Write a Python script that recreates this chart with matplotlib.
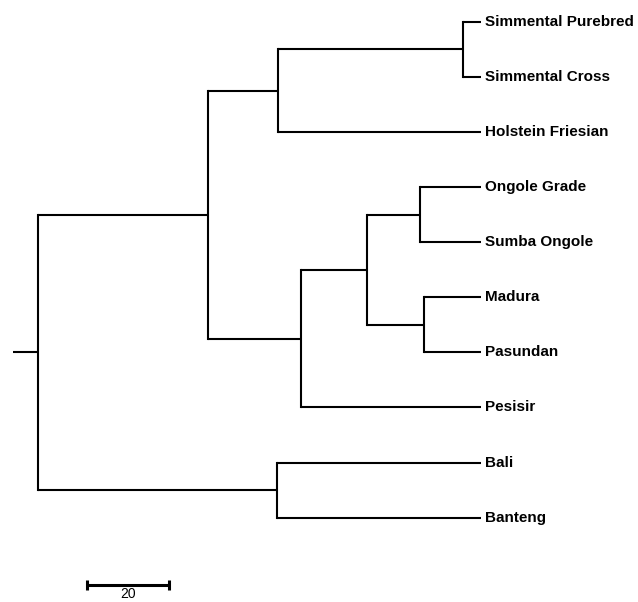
import matplotlib
matplotlib.use("Agg")
import matplotlib.pyplot as plt

leaves = ["Simmental Purebred", "Simmental Cross", "Holstein Friesian",
          "Ongole Grade", "Sumba Ongole", "Madura", "Pasundan",
          "Pesisir", "Bali", "Banteng"]
# (child a, child b, height) ; node ids continue after leaves
merges = [(0, 1, 4.2), (10, 2, 49.5), (3, 4, 14.8), (5, 6, 13.7),
          (12, 13, 27.8), (14, 7, 43.8), (11, 15, 66.4), (8, 9, 49.7),
          (16, 17, 108.0)]
root_stem = 6.0
scale_len = 20

fig = plt.figure(figsize=(6.38, 6.02), dpi=100)
ax = fig.add_axes([0, 0, 1, 1])
ax.set_xlim(117.2, -38.4)
ax.set_ylim(10.53, -0.394)
ax.axis("off")

lw = 1.5
pos = {i: (0.0, float(i)) for i in range(len(leaves))}
nid = len(leaves)
for a, b, h in merges:
    xa, ya = pos[a]
    xb, yb = pos[b]
    ax.plot([xa, h], [ya, ya], color="black", lw=lw, solid_capstyle="butt")
    ax.plot([xb, h], [yb, yb], color="black", lw=lw, solid_capstyle="butt")
    ax.plot([h, h], [ya, yb], color="black", lw=lw, solid_capstyle="projecting")
    pos[nid] = (h, (ya + yb) / 2)
    nid += 1
rx, ry = pos[nid - 1]
ax.plot([rx, rx + root_stem], [ry, ry], color="black", lw=lw, solid_capstyle="butt")

for i, name in enumerate(leaves):
    ax.text(-1.1, i, name, ha="left", va="center", fontsize=11,
            fontweight="bold", family="Liberation Sans")

# scale bar
sx0 = 96.0
sy = 10.22
ax.plot([sx0, sx0 - scale_len], [sy, sy], color="black", lw=2.2, solid_capstyle="butt")
for xx in (sx0, sx0 - scale_len):
    ax.plot([xx, xx], [sy - 0.09, sy + 0.09], color="black", lw=2.2, solid_capstyle="butt")
ax.text(sx0 - scale_len / 2, sy + 0.03, str(scale_len), ha="center", va="top",
        fontsize=10, family="Liberation Sans")

fig.savefig("out.png", dpi=100)
